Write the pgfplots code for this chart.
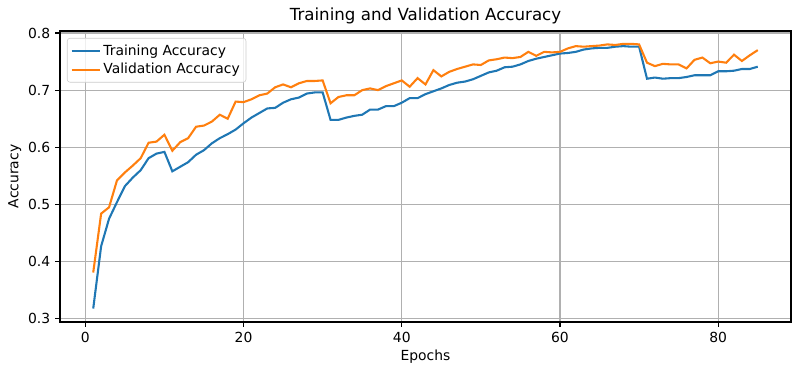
\documentclass[border=0pt]{standalone}
\usepackage{fontspec}
\setmainfont{DejaVu Sans}
\usepackage{pgfplots}
\pgfplotsset{compat=1.18}
\definecolor{cZero}{HTML}{1F77B4}
\definecolor{cOne}{HTML}{FF7F0E}
\definecolor{gridc}{HTML}{B0B0B0}
\definecolor{legc}{HTML}{CCCCCC}
\begin{document}
\begin{tikzpicture}
\begin{axis}[
  name=ax,
  scale only axis,
  width=526.3pt, height=209.5pt,
  xmin=-3.2, xmax=89.2,
  ymin=0.2945, ymax=0.8035,
  xtick={0,20,40,60,80},
  ytick={0.3,0.4,0.5,0.6,0.7,0.8},
  yticklabel style={/pgf/number format/fixed,/pgf/number format/precision=1,/pgf/number format/fixed zerofill},
  /pgf/number format/assume math mode=true,
  tick label style={font=\fontsize{10}{12}\selectfont},
  label style={font=\fontsize{10}{12}\selectfont},
  xlabel style={yshift=1.5pt},
  ylabel style={yshift=-2pt},
  title style={font=\fontsize{12}{14}\selectfont, yshift=-4.5pt},
  title={Training and Validation Accuracy},
  xlabel={Epochs}, ylabel={Accuracy},
  grid=major,
  major grid style={gridc, line width=0.8pt},
  axis line style={line width=0.8pt},
  tick style={black, line width=0.8pt},
  tick align=outside,
  major tick length=3.5pt,
  xtick pos=bottom, ytick pos=left,
  legend cell align=left,
  legend style={at={(0.0095,0.976)}, anchor=north west, draw=legc, rounded corners=2pt, fill=white, fill opacity=0.8, text opacity=1, font=\fontsize{10}{12}\selectfont, inner sep=2.5pt, row sep=0.5pt},
  legend image code/.code={\draw[#1] (0pt,0pt) -- (20pt,0pt);},
]
\addplot[cZero, line width=1.5pt] coordinates {
(1,0.318)(2,0.427)(3,0.475)(4,0.504)(5,0.532)(6,0.547)(7,0.560)(8,0.581)(9,0.589)(10,0.592)
(11,0.558)(12,0.566)(13,0.574)(14,0.587)(15,0.595)(16,0.607)(17,0.616)(18,0.623)(19,0.631)(20,0.642)
(21,0.652)(22,0.660)(23,0.668)(24,0.669)(25,0.678)(26,0.684)(27,0.687)(28,0.694)(29,0.696)(30,0.696)
(31,0.648)(32,0.648)(33,0.652)(34,0.655)(35,0.657)(36,0.666)(37,0.666)(38,0.672)(39,0.672)(40,0.678)
(41,0.686)(42,0.686)(43,0.693)(44,0.698)(45,0.703)(46,0.709)(47,0.713)(48,0.715)(49,0.719)(50,0.725)
(51,0.731)(52,0.734)(53,0.740)(54,0.741)(55,0.745)(56,0.751)(57,0.755)(58,0.758)(59,0.761)(60,0.764)
(61,0.765)(62,0.767)(63,0.771)(64,0.773)(65,0.774)(66,0.774)(67,0.776)(68,0.777)(69,0.776)(70,0.776)
(71,0.720)(72,0.722)(73,0.720)(74,0.721)(75,0.721)(76,0.723)(77,0.726)(78,0.726)(79,0.726)(80,0.733)
(81,0.733)(82,0.734)(83,0.737)(84,0.737)(85,0.741)
};
\addlegendentry{Training Accuracy}
\addplot[cOne, line width=1.5pt] coordinates {
(1,0.381)(2,0.484)(3,0.495)(4,0.542)(5,0.556)(6,0.568)(7,0.581)(8,0.608)(9,0.610)(10,0.622)
(11,0.594)(12,0.609)(13,0.616)(14,0.636)(15,0.638)(16,0.645)(17,0.657)(18,0.650)(19,0.680)(20,0.679)
(21,0.684)(22,0.691)(23,0.694)(24,0.705)(25,0.710)(26,0.705)(27,0.712)(28,0.716)(29,0.716)(30,0.717)
(31,0.677)(32,0.688)(33,0.691)(34,0.691)(35,0.700)(36,0.703)(37,0.700)(38,0.707)(39,0.712)(40,0.717)
(41,0.706)(42,0.721)(43,0.710)(44,0.735)(45,0.724)(46,0.732)(47,0.737)(48,0.741)(49,0.745)(50,0.744)
(51,0.752)(52,0.754)(53,0.757)(54,0.756)(55,0.758)(56,0.767)(57,0.760)(58,0.767)(59,0.766)(60,0.767)
(61,0.773)(62,0.777)(63,0.776)(64,0.777)(65,0.778)(66,0.780)(67,0.779)(68,0.781)(69,0.781)(70,0.780)
(71,0.748)(72,0.742)(73,0.746)(74,0.745)(75,0.745)(76,0.738)(77,0.753)(78,0.757)(79,0.747)(80,0.750)
(81,0.748)(82,0.762)(83,0.751)(84,0.761)(85,0.770)
};
\addlegendentry{Validation Accuracy}
\end{axis}
\pgfresetboundingbox
\path ([xshift=-43.2pt,yshift=-36pt]ax.south west) rectangle ([xshift=6.5pt,yshift=22.3pt]ax.north east);
\end{tikzpicture}
\end{document}
